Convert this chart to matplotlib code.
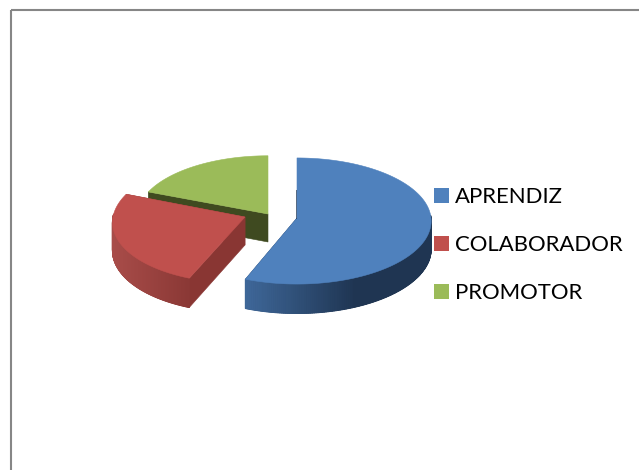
import numpy as np
import matplotlib
matplotlib.use("Agg")
import matplotlib.pyplot as plt
from matplotlib.patches import Polygon, Rectangle, Patch
from matplotlib.colors import to_rgb

categories = ["APRENDIZ", "COLABORADOR", "PROMOTOR"]
values = [56, 25, 19]

top_colors = ["#4F81BD", "#C0504D", "#9BBB59"]
side_left = ["#3F689A", "#A84C49", "#5E7436"]
side_right = ["#1F3552", "#8A3835", "#3F4A20"]
cut_colors = ["#1F3552", "#893633", "#3F4A20"]
centers = [(297, 218), (245, 217), (268, 214)]
grad_span = [(244, 355), (113, 190), (149, 268)]
radii_x = [134, 132, 131]
radii_y = [62.9, 62.9, 61.0]
skews = [0, 5, 0]

PERSP, DEPTH = 0.0476, 28

fig = plt.figure(figsize=(6.39, 4.70), dpi=100)
ax = fig.add_axes([0, 0, 1, 1])
ax.set_xlim(0, 639)
ax.set_ylim(470, 0)
ax.axis("off")

ax.add_patch(Rectangle((11, 10), 700, 600, fill=False, edgecolor="#868686", linewidth=1.5))


def project(i, theta, down=0.0, r=1.0):
    c = centers[i]
    u, v = r * np.sin(theta), r * np.cos(theta)
    s = 1.0 / (1.0 + PERSP * v)
    return c[0] + (radii_x[i] * u + skews[i] * v) * s, c[1] - radii_y[i] * v * s + down * s


def lerp(c1, c2, t):
    a, b = np.array(to_rgb(c1)), np.array(to_rgb(c2))
    return tuple(a + (b - a) * float(np.clip(t, 0, 1)))


fractions = np.array(values, dtype=float) / sum(values)
edges = np.concatenate([[0], np.cumsum(fractions)]) * 2 * np.pi
z_order = {2: 3, 1: 4, 0: 5}

for i in (2, 1, 0):
    c = centers[i]
    a0, a1 = edges[i], edges[i + 1]
    z = z_order[i]
    thetas = np.linspace(a0, a1, 240)
    apex = (c[0], c[1])
    apex_d = (c[0], c[1] + DEPTH)

    # radial cut faces sit behind the outer wall; faces pointing straight back are edge-on
    for a in (a0, a1):
        if np.cos(a) > 0.98:
            continue
        ax.add_patch(Polygon([apex, project(i, a), project(i, a, down=DEPTH), apex_d], closed=True,
                             facecolor=cut_colors[i], edgecolor=cut_colors[i], linewidth=0.4, zorder=z))

    # outer wall: solid base, then left-to-right shading over it
    front = thetas[np.cos(thetas) <= 0.05]
    if len(front) > 1:
        base = [project(i, t) for t in front] + [project(i, t, down=DEPTH) for t in front[::-1]]
        ax.add_patch(Polygon(base, closed=True, facecolor=side_right[i], edgecolor=side_right[i],
                             linewidth=0.3, zorder=z + 0.1))
        for t0, t1 in zip(front[:-1], front[1:]):
            p = [project(i, t0), project(i, t1), project(i, t1, down=DEPTH), project(i, t0, down=DEPTH)]
            xm = (p[0][0] + p[1][0]) / 2
            col = lerp(side_left[i], side_right[i], (xm - grad_span[i][0]) / (grad_span[i][1] - grad_span[i][0]))
            ax.add_patch(Polygon(p, closed=True, facecolor=col, edgecolor=col, linewidth=0.8, zorder=z + 0.2))

    # top surface
    rim_pts = [project(i, t) for t in thetas]
    ax.add_patch(Polygon([c] + rim_pts, closed=True, facecolor=top_colors[i],
                         edgecolor=top_colors[i], linewidth=0.4, zorder=z + 0.5))

# thin dark sliver of the first slice's back cut face
p_mid = project(0, edges[0], r=0.45)
ax.plot([centers[0][0] - 0.6, p_mid[0] - 0.6], [centers[0][1], p_mid[1]], color=cut_colors[0],
        lw=0.7, alpha=0.7, zorder=6)

handles = [Patch(facecolor=col, edgecolor="none") for col in top_colors]
fs = 15.9
ax.legend(handles, categories, loc="upper left", bbox_to_anchor=(434 / 639, 1 - 187 / 470),
          frameon=False, borderpad=0, borderaxespad=0,
          prop={"family": "Lato", "size": fs},
          handlelength=10.8 / fs, handleheight=10.8 / fs,
          handletextpad=6 * 0.72 / fs, labelspacing=1.27, labelcolor="black")

fig.savefig("out.png", dpi=100)
